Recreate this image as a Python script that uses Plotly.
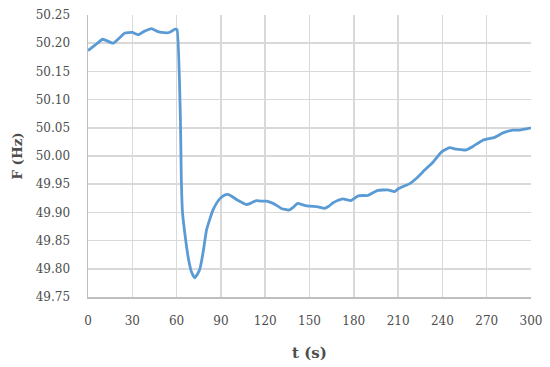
import plotly.graph_objects as go

t_s = [0, 5, 10, 17, 25, 30, 34, 38, 43, 47, 50, 55, 59, 60.3,
       62.6, 63.2, 64, 66.2, 68.2, 70, 72.2, 74, 75.8, 78, 80.2, 82.5, 84.6, 87, 89.2,
       92, 94.8, 97, 100.5, 104, 107.2, 110, 114, 117, 120.8, 125.3, 128, 131, 136,
       139, 142, 146, 150, 155.7, 160, 163, 166, 169, 172.6, 178, 182.8, 186, 189.6,
       193, 196.3, 203, 207.7, 210.2, 213.4, 217.9, 222.3, 228, 233.6, 239.3, 244.9,
       249.4, 256.2, 260.7, 267.4, 275.4, 281, 287.8, 292.3, 300]
f_hz = [50.187, 50.197, 50.207, 50.200, 50.218, 50.219, 50.215, 50.221, 50.226, 50.221,
        50.219, 50.219, 50.225, 50.224,
        50.063, 49.957, 49.900, 49.850, 49.815, 49.795, 49.784, 49.790, 49.800, 49.830,
        49.868, 49.888, 49.904, 49.916, 49.924,
        49.930, 49.932, 49.929, 49.923, 49.918, 49.914, 49.916, 49.921, 49.920, 49.920,
        49.916, 49.912, 49.907, 49.904,
        49.909, 49.916, 49.913, 49.911, 49.910, 49.907, 49.911, 49.917, 49.921, 49.924,
        49.921, 49.929, 49.930, 49.930,
        49.935, 49.939, 49.940, 49.937, 49.942, 49.946, 49.951, 49.960, 49.975, 49.989,
        50.007, 50.015,
        50.012, 50.011, 50.017, 50.028, 50.033, 50.041, 50.046, 50.046, 50.050]

x_ticks = [0, 30, 60, 90, 120, 150, 180, 210, 240, 270, 300]
y_ticks = [49.75, 49.80, 49.85, 49.90, 49.95, 50.00, 50.05, 50.10, 50.15, 50.20, 50.25]

FONT = "DejaVu Serif"
fig = go.Figure()
fig.add_trace(go.Scatter(x=t_s, y=f_hz, mode="lines",
                         line=dict(color="#5B9BD5", width=2.8, shape="spline", smoothing=0.4),
                         showlegend=False, cliponaxis=False, hoverinfo="skip"))
fig.update_layout(
    width=550, height=367,
    margin=dict(l=88, r=19, t=15, b=70, autoexpand=False),
    paper_bgcolor="white", plot_bgcolor="white",
    font=dict(family=FONT, size=12, color="#4d4d4d"),
    xaxis=dict(range=[0, 300], tickvals=x_ticks, ticktext=[str(v) for v in x_ticks],
               showgrid=True, gridcolor="#d9d9d9", gridwidth=1.5,
               showline=True, linecolor="#bfbfbf", linewidth=1.5, mirror=False,
               zeroline=False, ticks="outside", ticklen=12, tickcolor="rgba(0,0,0,0)",
               automargin=False,
               title=dict(text="<b>t (s)</b>", font=dict(family=FONT, size=15, color="#4d4d4d"),
                          standoff=20)),
    yaxis=dict(range=[49.75, 50.25], tickvals=y_ticks, ticktext=[f"{v:.2f}" for v in y_ticks],
               showgrid=True, gridcolor="#d9d9d9", gridwidth=1.5,
               showline=True, linecolor="#bfbfbf", linewidth=1.5,
               zeroline=False, ticks="outside", ticklen=14, tickcolor="rgba(0,0,0,0)",
               automargin=False,
               title=dict(text="<b>F (Hz)</b>", font=dict(family=FONT, size=13.5, color="#4d4d4d"),
                          standoff=10)),
)
fig.write_html("out.html", config={"displayModeBar": False, "staticPlot": True},
               post_script="document.body.style.margin='0';document.body.style.overflow='hidden';")
